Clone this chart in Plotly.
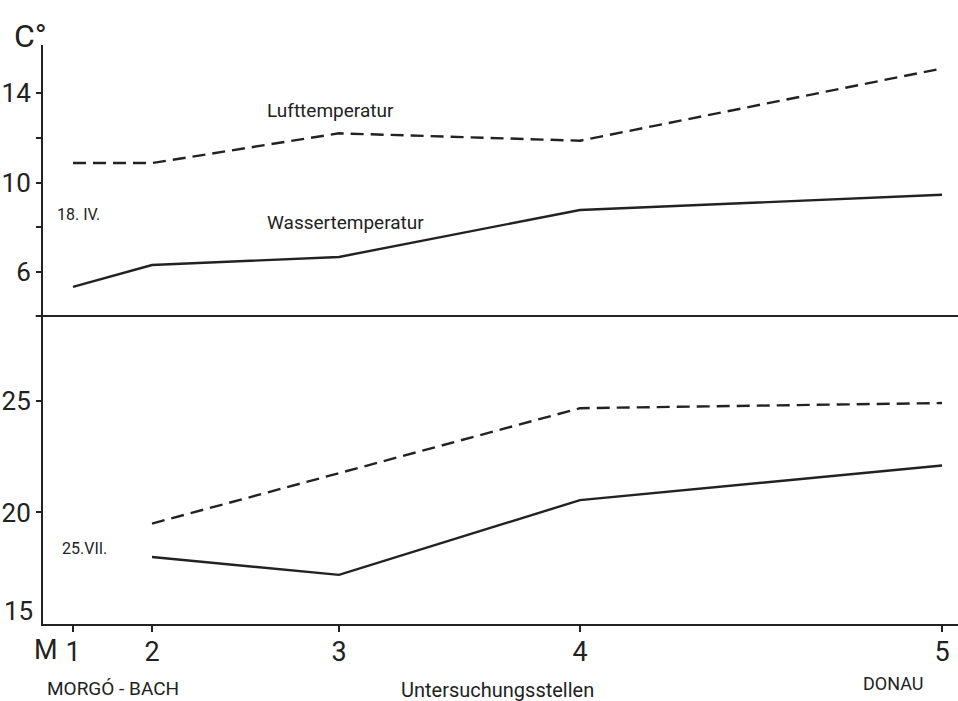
import plotly.graph_objects as go

# Data
stations = ["1", "2", "3", "4", "5"]
station_pos = [30, 109, 296, 537, 899]  # relative distance along the stream

apr_luft = [10.87, 10.87, 12.2, 11.87, 15.1]
apr_wasser = [5.33, 6.31, 6.67, 8.77, 9.45]

jul_stations_pos = [109, 296, 537, 899]
jul_luft = [19.5, 21.76, 24.67, 24.9]
jul_wasser = [18.0, 17.2, 20.55, 22.1]

top_ticks = [6, 8, 10, 12, 14]
top_ticktext = ["6", "", "10", "", "14"]
bot_ticks = [20, 25]
bot_ticktext = ["20", "25"]

FONT = "Roboto, Noto Sans, sans-serif"
INK = "#222222"
LW = 2.4
DASH = "13px,7px"

fig = go.Figure()
fig.add_trace(go.Scatter(x=station_pos, y=apr_luft, mode="lines", xaxis="x", yaxis="y",
                         line=dict(color=INK, width=LW, dash=DASH), name="Lufttemperatur 18.IV."))
fig.add_trace(go.Scatter(x=station_pos, y=apr_wasser, mode="lines", xaxis="x", yaxis="y",
                         line=dict(color=INK, width=LW), name="Wassertemperatur 18.IV."))
fig.add_trace(go.Scatter(x=jul_stations_pos, y=jul_luft, mode="lines", xaxis="x", yaxis="y2",
                         line=dict(color=INK, width=LW, dash=DASH), name="Lufttemperatur 25.VII."))
fig.add_trace(go.Scatter(x=jul_stations_pos, y=jul_wasser, mode="lines", xaxis="x", yaxis="y2",
                         line=dict(color=INK, width=LW), name="Wassertemperatur 25.VII."))

H = 701
plot_top = 45
plot_bot = 624
ph = plot_bot - plot_top
split = (plot_bot - 316) / ph

fig.update_layout(
    width=958, height=701,
    margin=dict(l=43, r=0, t=plot_top, b=H - plot_bot, autoexpand=False),
    paper_bgcolor="white", plot_bgcolor="white",
    showlegend=False,
    font=dict(family=FONT, color=INK),
    xaxis=dict(range=[0, 915], anchor="y2", showgrid=False, zeroline=False,
               showline=True, linecolor=INK, linewidth=2,
               tickvals=station_pos, ticktext=stations, ticks="outside", ticklen=6,
               ticklabelstandoff=-3,
               tickwidth=1.5, tickcolor=INK, tickfont=dict(size=27, family=FONT, color=INK)),
    yaxis=dict(domain=[split, 1], range=[4.03, 16.15], showgrid=False, zeroline=False,
               showline=True, linecolor=INK, linewidth=2, anchor="x",
               tickvals=top_ticks, ticktext=top_ticktext, ticks="outside", ticklen=5,
               tickwidth=1.5, tickcolor=INK, tickfont=dict(size=26, family=FONT, color=INK)),
    yaxis2=dict(domain=[0, split], range=[15, 28.8], showgrid=False, zeroline=False,
                showline=True, linecolor=INK, linewidth=2, anchor="x",
                tickvals=bot_ticks, ticktext=bot_ticktext, ticks="outside", ticklen=5,
                tickwidth=1.5, tickcolor=INK, tickfont=dict(size=26, family=FONT, color=INK)),
)

# divider line between panels
fig.add_shape(type="line", xref="paper", yref="paper", x0=-0.008, x1=1, y0=split, y1=split,
              line=dict(color=INK, width=2))


def px_x(px):
    return (px - 43) / 915


def px_y(py):
    return (plot_bot - py) / ph


anns = [
    dict(text="C°", x=px_x(30), y=px_y(36), xref="paper", yref="paper", size=32, xanchor="center"),
    dict(text="15", x=px_x(35), y=px_y(611), xref="paper", yref="paper", size=26, xanchor="right"),
    dict(text="M", x=px_x(46), y=px_y(650), xref="paper", yref="paper", size=27, xanchor="center"),
    dict(text="MORGÓ - BACH", x=px_x(45), y=px_y(688), xref="paper", yref="paper", size=19, xanchor="left"),
    dict(text="Untersuchungsstellen", x=px_x(497), y=px_y(690), xref="paper", yref="paper", size=20, xanchor="center"),
    dict(text="DONAU", x=px_x(893), y=px_y(683), xref="paper", yref="paper", size=18, xanchor="center"),
    dict(text="Lufttemperatur", x=222, y=13.24, xref="x", yref="y", size=19, xanchor="left"),
    dict(text="Wassertemperatur", x=222, y=8.23, xref="x", yref="y", size=19, xanchor="left"),
    dict(text="18. IV.", x=12, y=8.55, xref="x", yref="y", size=16, xanchor="left"),
    dict(text="25.VII.", x=17, y=18.4, xref="x", yref="y2", size=16, xanchor="left"),
]
for a in anns:
    fig.add_annotation(text=a["text"], x=a["x"], y=a["y"], xref=a["xref"], yref=a["yref"],
                       xanchor=a["xanchor"], yanchor="middle", showarrow=False,
                       font=dict(size=a["size"], family=FONT, color=INK))

fig.write_html("out.html", config={"displayModeBar": False},
               post_script="document.body.style.margin='0';")
